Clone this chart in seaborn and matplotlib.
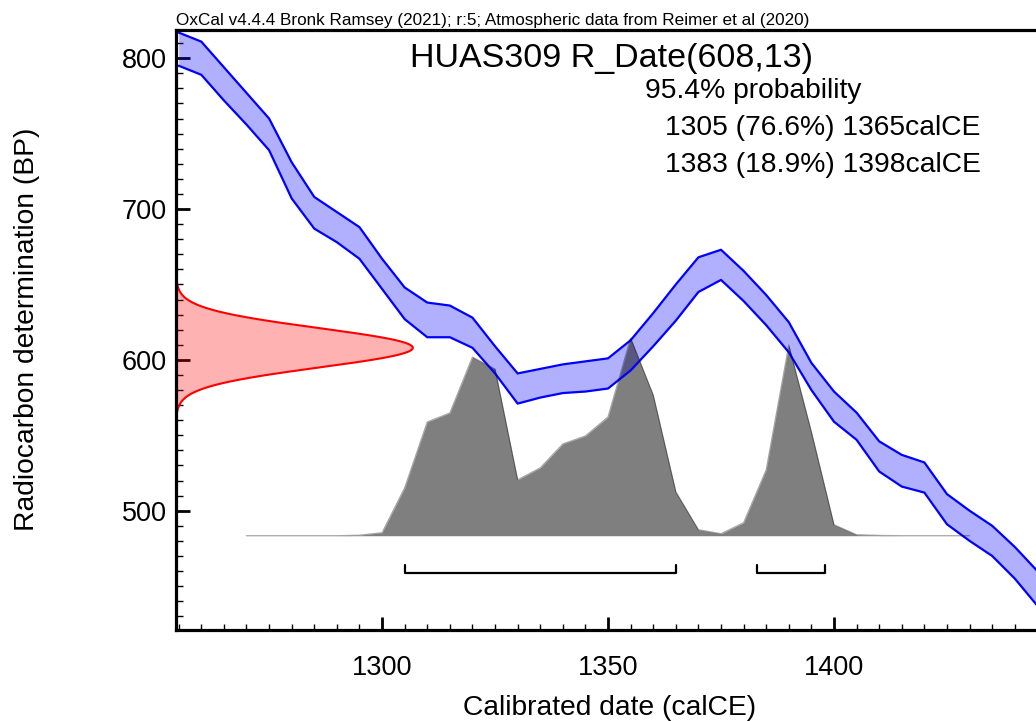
import numpy as np
import pandas as pd
import matplotlib
matplotlib.use("Agg")
import matplotlib.pyplot as plt
import seaborn as sns
from matplotlib.ticker import MultipleLocator, FixedLocator

# ---------------- data ----------------
# Calibration curve band (IntCal20), 5-year nodes
cal_years = [1255, 1260, 1265, 1270, 1275, 1280, 1285, 1290, 1295, 1300,
             1305, 1310, 1315, 1320, 1325, 1330, 1335, 1340, 1345, 1350,
             1355, 1360, 1365, 1370, 1375, 1380, 1385, 1390, 1395, 1400,
             1405, 1410, 1415, 1420, 1425, 1430, 1435, 1440, 1445]
cal_upper = [817, 811, 794, 777, 760, 731, 708, 698, 688, 667,
             648, 638, 636, 628, 609, 591, 594, 597, 599, 601,
             613, 631, 650, 668, 673, 659, 643, 625, 598, 579,
             565, 546, 537, 532, 511, 500, 490, 476, 460]
cal_lower = [795, 789, 772, 756, 739, 707, 687, 678, 667, 647,
             627, 615, 615, 608, 591, 571, 575, 578, 579, 581,
             593, 609, 626, 645, 653, 639, 623, 605, 580, 559,
             547, 526, 516, 512, 491, 480, 470, 455, 437]

# Calibrated date probability (relative)
prob_years = [1270, 1275, 1280, 1285, 1290, 1295, 1300, 1305, 1310, 1315,
              1320, 1325, 1330, 1335, 1340, 1345, 1350, 1355, 1360, 1365,
              1370, 1375, 1380, 1385, 1390, 1395, 1400, 1405, 1410, 1415,
              1420, 1425, 1430]
prob_values = [0, 0, 0, 0, 0, 0.5, 3, 48, 114, 123,
               179, 167, 56, 68, 92, 100, 119, 198, 141, 44,
               6, 2, 13, 66, 191, 104, 11, 1, 0.3, 0,
               0, 0, 0]

# Radiocarbon measurement R_Date(608,13)
c14_mean = 608
c14_sd = 13

# 95.4% ranges
range_start = [1305, 1383]
range_end = [1365, 1398]

header = "OxCal v4.4.4 Bronk Ramsey (2021); r:5; Atmospheric data from Reimer et al (2020)"
title = "HUAS309 R_Date(608,13)"
prob_label = "95.4% probability"
range_texts = ["1305 (76.6%) 1365calCE", "1383 (18.9%) 1398calCE"]
xlabel = "Calibrated date (calCE)"
ylabel = "Radiocarbon determination (BP)"
x_major = [1300, 1350, 1400]
y_major = [500, 600, 700, 800]

# ---------------- style ----------------
sns.set_theme(style="white")
plt.rcParams["font.family"] = ["Liberation Sans", "DejaVu Sans"]
plt.rcParams["text.color"] = "black"
plt.rcParams["axes.labelcolor"] = "black"
plt.rcParams["xtick.color"] = "black"
plt.rcParams["ytick.color"] = "black"

W, H = 1036, 721
fig = plt.figure(figsize=(W / 100, H / 100), dpi=100)
ax = fig.add_axes([176 / W, 1 - 630 / H, 1 - 176 / W, 600 / H])

xlim = (1254.4, 1444.7)
ylim = (420.9, 818.7)
ax.set_xlim(*xlim)
ax.set_ylim(*ylim)

# red measurement distribution on the y axis
yy = np.linspace(c14_mean - 3.5 * c14_sd, c14_mean + 3.5 * c14_sd, 300)
dens = np.exp(-0.5 * ((yy - c14_mean) / c14_sd) ** 2)
red_x = xlim[0] + 52.4 * dens
ax.fill_betweenx(yy, xlim[0], red_x, color="red", alpha=0.3, lw=0)
ax.plot(red_x, yy, color="red", lw=1.5)

# calibration curve band
cal = pd.DataFrame({"year": cal_years, "upper": cal_upper, "lower": cal_lower})
ax.fill_between(cal["year"], cal["lower"], cal["upper"], color="blue", alpha=0.31, lw=0)
sns.lineplot(data=cal, x="year", y="upper", ax=ax, color="blue", lw=1.6, sort=False)
sns.lineplot(data=cal, x="year", y="lower", ax=ax, color="blue", lw=1.6, sort=False)

# calibrated probability
base_bp = 483.4
peak_bp = 131.0
prob = pd.DataFrame({"year": prob_years, "p": prob_values})
prob["y"] = base_bp + prob["p"] / max(prob_values) * peak_bp
ax.fill_between(prob["year"], base_bp, prob["y"], color="black", alpha=0.5, lw=0)
sns.lineplot(data=prob, x="year", y="y", ax=ax, color="black", alpha=0.35, lw=0.9, sort=False)

# range brackets
br_y = 458.7
br_h = 5.3
for s, e in zip(range_start, range_end):
    ax.plot([s, s, e, e], [br_y + br_h, br_y, br_y, br_y + br_h], color="black", lw=1.6)

# axes styling
ax.set_xlabel("")
ax.set_ylabel("")
for side in ["left", "bottom", "top"]:
    ax.spines[side].set_visible(True)
    ax.spines[side].set_color("black")
    ax.spines[side].set_linewidth(2.3)
ax.spines["right"].set_visible(False)

ax.xaxis.set_major_locator(FixedLocator(x_major))
ax.xaxis.set_minor_locator(MultipleLocator(5))
ax.yaxis.set_major_locator(FixedLocator(y_major))
ax.yaxis.set_minor_locator(MultipleLocator(10))
ax.tick_params(axis="both", which="both", direction="in", color="black", labelcolor="black",
               bottom=True, left=True, top=False, right=False)
ax.tick_params(axis="x", which="major", length=9.5, width=2.0, pad=18, labelsize=19.5)
ax.tick_params(axis="x", which="minor", length=4.3, width=1.0)
ax.tick_params(axis="y", which="major", length=10, width=2.0, pad=6.5, labelsize=19.5)
ax.tick_params(axis="y", which="minor", length=5, width=1.0)

ax.set_xlabel(xlabel, fontsize=20.3, color="black")
ax.xaxis.set_label_coords((610 - 176) / 860, (630 - 695) / 600)
ax.set_ylabel(ylabel, fontsize=20.3, color="black")
ax.yaxis.set_label_coords((40 - 176) / 860, (630 - 329) / 600)

# texts
fig.text(176 / W, 1 - 25 / H, header, fontsize=12.3, va="baseline", ha="left", color="black")
fig.text(611 / W, 1 - 66.7 / H, title, fontsize=24.5, va="baseline", ha="center", color="black")
fig.text(645 / W, 1 - 98.3 / H, prob_label, fontsize=20.3, va="baseline", ha="left", color="black")
for i, t in enumerate(range_texts):
    fig.text(665 / W, 1 - (135 + 36.7 * i) / H, t, fontsize=20.3, va="baseline", ha="left",
             color="black")

fig.savefig("out.png", dpi=100)
